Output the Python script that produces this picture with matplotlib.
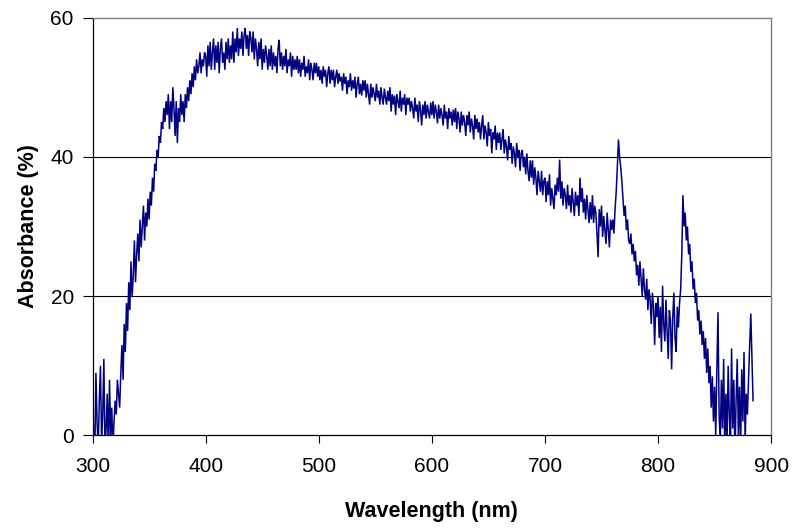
import numpy as np
import matplotlib
matplotlib.use("Agg")
import matplotlib.pyplot as plt

# Absorbance (%) at 1 nm steps, one row per 20 nm
absorbance = [
    7, 0, -3, 9, 2, -2, 5, 10, -1, 3, 11, -2, 1, 6, -3, 8, 0, 4, -2, 2,                                  # 300
    5, 3, 8, 6, 4, 9, 13, 8, 16, 12, 19, 15, 22, 18, 25, 20, 23, 28, 22, 26,                             # 320
    29, 25, 31, 27, 30, 33, 28, 32, 30, 34, 31, 35, 33, 37, 35, 39, 38, 41, 40, 43,                      # 340
    42, 45, 44, 47, 45, 48, 46, 49, 44, 48, 45, 50, 47, 43, 48, 42, 47, 45, 49, 46,                      # 360
    48, 45, 49, 47, 50, 48, 51, 49, 52, 50, 53, 51, 54, 52, 53, 55, 52, 54, 53, 55,                      # 380
    54.5, 51.5, 56, 53, 56.5, 52.5, 55, 57, 52.5, 56, 53.5, 56.5, 52, 55.5, 57, 53.5, 55, 52.5, 56.5, 54,  # 400
    57, 53.5, 56, 54, 58, 53.5, 57, 55, 58.5, 54.5, 57, 55.5, 58, 54.5, 57.5, 58.5, 55.5, 57.5, 54.5, 58,  # 420
    57, 55, 58, 54, 57, 55.5, 53, 56.5, 54, 57, 52.5, 55.5, 53.5, 56, 54.5, 52.5, 55.5, 53, 56, 52.5,    # 440
    55, 53, 54.5, 52, 55.5, 56.8, 53, 55, 52.5, 54.5, 53, 55.5, 52, 54, 53, 55, 51.5, 54.5, 52.5, 54,    # 460
    52.5, 54.5, 52, 54, 51.5, 53.5, 52.5, 54.5, 51.5, 53, 52, 54, 51, 53.5, 52.5, 51, 53.5, 52, 53.5, 51.5,  # 480
    53, 51, 52.5, 50.5, 53, 51.5, 52.5, 50, 52, 53, 50.5, 52.5, 51, 52.5, 50, 51.5, 52.5, 50.5, 52, 50.8,  # 500
    51.5, 49.5, 52, 50.5, 51.5, 49, 51, 50, 52, 49.5, 51, 49.8, 51.5, 48.5, 50.5, 51.5, 49, 50.5, 48.8, 51,  # 520
    49.5, 51, 48.5, 50.5, 49, 47.5, 50.5, 48.5, 50, 49, 48, 50.5, 48.5, 49.5, 47.5, 50, 48.5, 47.5, 49.8, 48.5,  # 540
    47.5, 49.5, 48, 50, 46.5, 49, 47.5, 48.8, 46, 49, 48, 47, 49.5, 46.5, 48.5, 47.5, 49, 46, 48.5, 47.5,  # 560
    48.5, 46.5, 48, 47, 45.5, 48.5, 46.5, 47.5, 45, 48, 46.8, 44.5, 47.5, 46, 48, 45.5, 47.5, 46.5, 45.5, 47.8,  # 580
    46, 48, 45.5, 47.5, 46.5, 44.8, 47.5, 45.5, 47, 46, 44.5, 47.5, 45.5, 46.5, 44, 47, 45.5, 46.5, 44.5, 46.8,  # 600
    45, 47, 44, 46.5, 45.5, 43.5, 46.5, 44.5, 46, 45, 43, 46, 44.5, 46.5, 43.5, 45.5, 44.5, 42.5, 46, 44,  # 620
    45.5, 43.5, 45, 42.5, 44.5, 46, 42.5, 44.5, 43.5, 41.5, 45, 43, 44, 40.5, 43.5, 42.5, 44.5, 41, 43.5, 42,  # 640
    43.5, 41, 42.5, 44, 40.5, 42.5, 41.5, 39.5, 43, 41, 42, 39, 41.5, 40.5, 38.5, 42, 40, 41, 38, 40.5,  # 660
    41, 38.5, 40, 37.5, 40.5, 38, 36.5, 39.5, 37, 39.5, 36, 38.5, 37, 34.5, 38, 36.5, 35, 38, 34.5, 36.5,  # 680
    37, 33.5, 36.5, 34.5, 37.5, 33, 35.5, 34, 32.5, 36, 34.5, 37, 35, 39.6, 34, 36.5, 33, 35.5, 34.5, 32.5,  # 700
    36, 33, 34.5, 32, 35.5, 33.5, 31.5, 35, 33, 34.5, 31.5, 37, 33.5, 35.5, 32, 34, 31, 34.5, 32.5, 30.5,  # 720
    33.5, 31, 34.5, 30.5, 33, 32, 29, 25.6, 32.5, 30, 33, 28.5, 31.5, 29.5, 27.5, 32, 29.5, 27, 31, 29.5,  # 740
    31, 29, 32.5, 35, 38.5, 42.5, 40, 38.5, 36.5, 34, 31.5, 33, 29.5, 31, 28, 27.5, 29, 26, 27.5, 25,    # 760
    26.5, 23, 24.5, 21.5, 25, 22.5, 20, 24, 21, 19.5, 22.5, 18, 21, 19.5, 16, 20.5, 18.5, 13, 19, 17,    # 780
    20, 14, 18.5, 12, 21.5, 16, 13.5, 19.5, 15, 11, 18, 16.5, 9.5, 17, 20.5, 14, 12, 18.5, 15.5, 19,     # 800
    21, 26, 34.5, 30, 32, 28, 30, 26, 27.5, 23.5, 25, 21, 22.5, 19, 20.5, 16.5, 18, 14.5, 16.5, 13,      # 820
    15, 11, 14, 9, 12.5, 7.5, 10, 4, 8.5, 2, 7, 0, 9.5, 17.7, 3, -1, 8, 1, 11, -2,                        # 840
    6, -1, 10, 3, -2, 12.5, 1, 8, -3, 5, 11, 0, 7, -2, 9.5, 2, 12, -1, 6, 3,                             # 860
    8, 13, 17.5, 11, 5,                                                                                  # 880
]

# Wavelength grid (nm): one reading per nm starting at 300 nm
wl_start = 300
wavelength = np.arange(wl_start, wl_start + len(absorbance))

x_ticks = [300, 400, 500, 600, 700, 800, 900]
y_ticks = [0, 20, 40, 60]

plt.rcParams['font.family'] = ['Liberation Sans', 'DejaVu Sans']

fig = plt.figure(figsize=(7.95, 5.32), dpi=100)
ax = fig.add_axes([0.1164, 0.1814, 0.970 - 0.1164, 0.967 - 0.1814])

ax.plot(wavelength, absorbance, color='#000080', lw=1.1, solid_joinstyle='miter')

ax.set_xlim(300, 900)
ax.set_ylim(0, 60)
ax.set_xticks(x_ticks)
ax.set_yticks(y_ticks)
ax.tick_params(axis='both', direction='out', width=0.8,
               labelsize=15, color='black')
ax.tick_params(axis='x', length=6, pad=9.5)
ax.tick_params(axis='y', length=7, pad=6.5)

for y in y_ticks[1:-1]:
    ax.axhline(y, color='black', lw=0.8, zorder=0)

for side in ['left', 'bottom']:
    ax.spines[side].set_color('black')
    ax.spines[side].set_linewidth(0.9)
for side in ['top', 'right']:
    ax.spines[side].set_color('#808080')
    ax.spines[side].set_linewidth(1.0)

ax.set_xlabel('Wavelength (nm)', fontsize=15.5, fontweight='bold', labelpad=18)
ax.set_ylabel('Absorbance (%)', fontsize=15.5, fontweight='bold', labelpad=8.5)

fig.savefig('out.png', dpi=100)
